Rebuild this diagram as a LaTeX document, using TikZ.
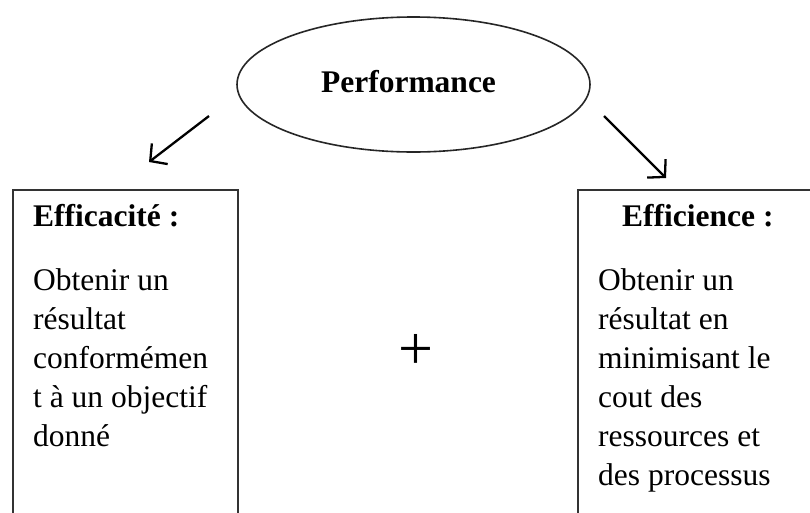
\documentclass[tikz,border=0pt]{standalone}
\usepackage{fontspec}
\setmainfont{Liberation Serif}
\usetikzlibrary{shapes.geometric,arrows.meta}
\tikzset{
  frame/.style={draw=black!80, line width=2pt, anchor=north west, minimum width=225pt, minimum height=360pt, inner sep=0pt},
  oval/.style={ellipse, draw=black!85, line width=1.6pt, minimum width=353pt, minimum height=135pt, inner sep=0pt},
  head/.style={font=\fontsize{31.5}{39}\selectfont\bfseries, anchor=base west, inner sep=0pt},
  body/.style={font=\fontsize{31.5}{39}\selectfont, anchor=base west, inner sep=0pt, align=left},
  conn/.style={line width=2.3pt, -{Straight Barb[length=12pt,width=26pt]}}
}
\begin{document}
\begin{tikzpicture}[x=1pt,y=-1pt]
\useasboundingbox (0,0) rectangle (810,512);
\clip (0,0) rectangle (810,512);
\fill[white] (0,0) rectangle (810,512);
\node[oval] (ell) at (413.5,84.5) {};
\node[font=\fontsize{31.5}{39}\selectfont\bfseries, inner sep=0pt, anchor=base] (perf) at (408.5,92) {Performance};
\node[frame] (lbox) at (12,189) {};
\node[frame, minimum width=270pt] (rbox) at (577,189) {};
\node[head] (lhead) at (33,226.5) {Efficacité :};
\node[head] (rhead) at (622,226.5) {Efficience :};
\node[body] (ltext) at (33,446) {Obtenir un\\résultat\\conformémen\\t à un objectif\\donné};
\node[body] (rtext) at (598,485) {Obtenir un\\résultat en\\minimisant le\\cout des\\ressources et\\des processus};
\node[font=\fontsize{62}{62}\selectfont, inner sep=0pt] (plus) at (416,352) {+};
\coordinate (la) at (209,116);
\coordinate (lb) at (149,162);
\coordinate (ra) at (604,116);
\coordinate (rb) at (666,178);
\draw[conn] (la) -- (lb);
\draw[conn] (ra) -- (rb);
\end{tikzpicture}
\end{document}
